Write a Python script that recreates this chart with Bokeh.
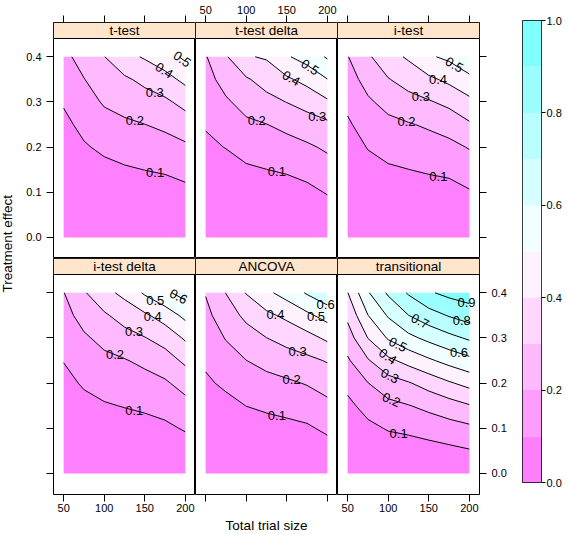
import math
import numpy as np
from bokeh.plotting import figure
from bokeh.layouts import row, column
from bokeh.models import Range1d, FixedTicker, PrintfTickFormatter, LinearAxis
from bokeh.plotting.contour import contour_data
from bokeh.core.properties import value
from bokeh.embed import file_html
from bokeh.resources import INLINE

# ---------------- data ----------------
TRIAL_SIZE = [50, 75, 100, 125, 150, 175, 200]
TREATMENT_EFFECT = [0.0, 0.05, 0.10, 0.15, 0.20, 0.25, 0.30, 0.35, 0.40]
LEVELS = [0.0, 0.1, 0.2, 0.3, 0.4, 0.5, 0.6, 0.7, 0.8, 0.9, 1.0]
REGION_COLORS = ["#FF80FF", "#FF9CFF", "#FFB9FF", "#FFD6FF", "#FFF2FF",
                 "#F2FFFF", "#D6FFFF", "#B9FFFF", "#9CFFFF", "#80FFFF"]
PANEL_TITLES = ["t-test", "t-test delta", "i-test", "i-test delta", "ANCOVA", "transitional"]
X_TICKS = [50, 100, 150, 200]
Y_TICKS = [0.0, 0.1, 0.2, 0.3, 0.4]
KEY_TICKS = [0.0, 0.2, 0.4, 0.6, 0.8, 1.0]
X_LABEL = "Total trial size"
Y_LABEL = "Treatment effect"

# rows: treatment effect 0 .. 0.4 ; columns: total trial size 50 .. 200
T_TEST = [
    [0.010, 0.010, 0.010, 0.010, 0.010, 0.010, 0.010],
    [0.015, 0.015, 0.018, 0.020, 0.020, 0.020, 0.023],
    [0.020, 0.020, 0.028, 0.043, 0.052, 0.058, 0.076],
    [0.030, 0.054, 0.074, 0.090, 0.101, 0.111, 0.130],
    [0.043, 0.090, 0.119, 0.137, 0.150, 0.163, 0.184],
    [0.076, 0.126, 0.165, 0.184, 0.199, 0.219, 0.252],
    [0.109, 0.161, 0.210, 0.234, 0.258, 0.282, 0.331],
    [0.142, 0.197, 0.254, 0.285, 0.324, 0.365, 0.425],
    [0.175, 0.237, 0.298, 0.370, 0.410, 0.458, 0.519],
]
T_TEST_DELTA = [
    [0.010, 0.010, 0.010, 0.010, 0.010, 0.010, 0.010],
    [0.015, 0.015, 0.015, 0.015, 0.015, 0.022, 0.053],
    [0.023, 0.020, 0.039, 0.050, 0.057, 0.076, 0.106],
    [0.051, 0.061, 0.087, 0.099, 0.111, 0.130, 0.160],
    [0.080, 0.103, 0.134, 0.149, 0.164, 0.185, 0.215],
    [0.108, 0.145, 0.182, 0.198, 0.225, 0.255, 0.279],
    [0.136, 0.187, 0.234, 0.270, 0.302, 0.336, 0.385],
    [0.165, 0.237, 0.289, 0.338, 0.385, 0.430, 0.498],
    [0.193, 0.290, 0.392, 0.410, 0.490, 0.540, 0.611],
]
I_TEST = [
    [0.010, 0.010, 0.010, 0.010, 0.010, 0.010, 0.010],
    [0.013, 0.015, 0.015, 0.015, 0.015, 0.015, 0.036],
    [0.016, 0.024, 0.043, 0.053, 0.061, 0.067, 0.092],
    [0.020, 0.064, 0.088, 0.099, 0.110, 0.120, 0.148],
    [0.050, 0.105, 0.132, 0.147, 0.159, 0.174, 0.206],
    [0.086, 0.146, 0.176, 0.193, 0.213, 0.240, 0.287],
    [0.123, 0.186, 0.230, 0.265, 0.291, 0.324, 0.375],
    [0.159, 0.235, 0.295, 0.340, 0.381, 0.422, 0.475],
    [0.196, 0.285, 0.365, 0.413, 0.488, 0.520, 0.580],
]
I_TEST_DELTA = [
    [0.010, 0.010, 0.010, 0.010, 0.010, 0.010, 0.010],
    [0.015, 0.015, 0.015, 0.015, 0.018, 0.028, 0.051],
    [0.020, 0.035, 0.050, 0.059, 0.067, 0.081, 0.109],
    [0.041, 0.073, 0.092, 0.104, 0.116, 0.134, 0.168],
    [0.072, 0.111, 0.135, 0.149, 0.165, 0.187, 0.237],
    [0.103, 0.148, 0.177, 0.194, 0.221, 0.257, 0.319],
    [0.134, 0.186, 0.227, 0.262, 0.296, 0.338, 0.413],
    [0.166, 0.236, 0.286, 0.341, 0.384, 0.444, 0.526],
    [0.197, 0.290, 0.370, 0.425, 0.514, 0.583, 0.635],
]
ANCOVA = [
    [0.010, 0.010, 0.010, 0.010, 0.010, 0.010, 0.010],
    [0.015, 0.015, 0.015, 0.015, 0.020, 0.028, 0.059],
    [0.025, 0.029, 0.052, 0.064, 0.075, 0.087, 0.118],
    [0.055, 0.073, 0.101, 0.117, 0.130, 0.146, 0.176],
    [0.085, 0.117, 0.150, 0.169, 0.185, 0.206, 0.239],
    [0.115, 0.161, 0.199, 0.229, 0.255, 0.277, 0.307],
    [0.145, 0.205, 0.258, 0.299, 0.333, 0.367, 0.418],
    [0.175, 0.253, 0.322, 0.379, 0.421, 0.479, 0.538],
    [0.205, 0.302, 0.405, 0.479, 0.540, 0.610, 0.673],
]
TRANSITIONAL = [
    [0.010, 0.010, 0.010, 0.010, 0.010, 0.010, 0.010],
    [0.014, 0.015, 0.042, 0.049, 0.0625, 0.077, 0.093],
    [0.018, 0.075, 0.108, 0.122, 0.141, 0.160, 0.179],
    [0.074, 0.138, 0.174, 0.196, 0.225, 0.258, 0.293],
    [0.130, 0.198, 0.258, 0.292, 0.340, 0.389, 0.431],
    [0.187, 0.291, 0.378, 0.433, 0.485, 0.532, 0.574],
    [0.252, 0.402, 0.510, 0.574, 0.626, 0.673, 0.714],
    [0.322, 0.498, 0.610, 0.699, 0.759, 0.807, 0.843],
    [0.397, 0.591, 0.715, 0.811, 0.888, 0.927, 0.952],
]
PANEL_VALUES = [T_TEST, T_TEST_DELTA, I_TEST, I_TEST_DELTA, ANCOVA, TRANSITIONAL]

# ---------------- geometry / style ----------------
FONT = "Liberation Sans"
STRIP_COLOR = "#FFE5CC"
FRAME_W = 142
STRIP_H = 16
PANEL_H = 220
FRAME_H = STRIP_H + PANEL_H
TOP_B = 22
BOT_B = 22
LEFT_B = 39
RIGHT_B = 31
YLAB_W = 14
XLAB_H = 18
KEY_L, KEY_W, KEY_R, KEY_T, KEY_H = 12, 20, 22, 20, 462
TOTAL_H = TOP_B + 2 * FRAME_H + BOT_B + XLAB_H

X_LO, X_HI = 37.5, 212.5
Y_LO, Y_HI = -0.0465, 0.4405
Y_PER_PX = (Y_HI - Y_LO) / PANEL_H
Y_STRIP_TOP = Y_HI + STRIP_H * Y_PER_PX
PX_PER_X = FRAME_W / (X_HI - X_LO)
PX_PER_Y = PANEL_H / (Y_HI - Y_LO)

AXES = [
    dict(left="labels", above="ticks"),
    dict(above="labels"),
    dict(above="ticks", right="ticks"),
    dict(left="ticks", below="labels"),
    dict(below="ticks"),
    dict(below="labels", right="labels"),
]


def add_axis(p, side, mode, ticks=None, fmt=None, tick_out=7, standoff=None):
    horizontal = side in ("above", "below")
    if ticks is None:
        ticks = X_TICKS if horizontal else Y_TICKS
    if fmt is None:
        fmt = "%d" if horizontal else "%.1f"
    ax = LinearAxis(ticker=FixedTicker(ticks=ticks),
                    formatter=PrintfTickFormatter(format=fmt))
    ax.axis_line_color = None
    ax.major_tick_in = 0
    ax.major_tick_out = tick_out
    ax.minor_tick_in = 0
    ax.minor_tick_out = 0
    ax.major_tick_line_color = "black"
    ax.major_tick_line_width = 1
    ax.major_label_text_font = FONT
    ax.major_label_text_font_size = "11px"
    ax.major_label_text_color = "black"
    if standoff is None:
        standoff = {"above": 2, "below": 2}.get(side, 5)
    ax.major_label_standoff = standoff
    if mode == "ticks":
        ax.major_label_overrides = {t: "" for t in ticks}
    p.add_layout(ax, side)


def split_lines(xs, ys):
    xs = np.asarray(xs, dtype=float)
    ys = np.asarray(ys, dtype=float)
    bad = np.isnan(xs) | np.isnan(ys)
    pieces, cur_x, cur_y = [], [], []
    for xv, yv, b in zip(xs, ys, bad):
        if b:
            if len(cur_x) > 1:
                pieces.append((np.array(cur_x), np.array(cur_y)))
            cur_x, cur_y = [], []
        else:
            cur_x.append(xv)
            cur_y.append(yv)
    if len(cur_x) > 1:
        pieces.append((np.array(cur_x), np.array(cur_y)))
    return pieces


def place_label(xx, yy):
    """lattice 'mixed' style: flat at the flattest point, else aligned at the deepest point."""
    sx = (xx - X_LO) * PX_PER_X
    sy = (yy - Y_LO) * PX_PER_Y
    seg = np.hypot(np.diff(sx), np.diff(sy))
    cum = np.concatenate([[0.0], np.cumsum(seg)])
    length = cum[-1]
    if length < 4:
        return None
    t = np.linspace(0.0, length, int(length) + 2)
    px = np.interp(t, cum, sx)
    py = np.interp(t, cum, sy)
    n = len(t)
    w = 10
    idx = np.arange(n)
    i0 = np.clip(idx - w, 0, n - 1)
    i1 = np.clip(idx + w, 0, n - 1)
    ang = np.arctan2(py[i1] - py[i0], px[i1] - px[i0])
    ang = (ang + np.pi / 2) % np.pi - np.pi / 2
    rx0, rx1 = px.min(), px.max()
    ry0, ry1 = py.min(), py.max()
    depth = np.minimum(np.minimum(px - rx0, rx1 - px) / max(rx1 - rx0, 1e-9),
                       np.minimum(py - ry0, ry1 - py) / max(ry1 - ry0, 1e-9))
    k = int(np.argmin(np.abs(ang)))
    rot = 0.0
    if depth[k] < 0.05:
        k = int(np.argmax(depth))
        rot = float(ang[k])
    return px[k] / PX_PER_X + X_LO, py[k] / PX_PER_Y + Y_LO, rot


def contour_labels(z):
    cd = contour_data(x=TRIAL_SIZE, y=TREATMENT_EFFECT, z=z, levels=LEVELS,
                      want_fill=False, want_line=True)
    ld = cd.line_data
    lx, ly, lt, la = [], [], [], []
    for xs, ys, lev in zip(ld.xs, ld.ys, ld.levels):
        if len(xs) and isinstance(xs[0], (list, np.ndarray)):
            pieces = []
            for a, b in zip(xs, ys):
                pieces += split_lines(a, b)
        else:
            pieces = split_lines(xs, ys)
        for xx, yy in pieces:
            res = place_label(xx, yy)
            if res is None:
                continue
            lx.append(float(res[0]))
            ly.append(float(res[1]))
            lt.append("%.1f" % lev)
            la.append(res[2])
    return lx, ly, lt, la


def make_panel(i):
    spec = AXES[i]
    top_row = i < 3
    colpos = i % 3
    p = figure(frame_width=FRAME_W, frame_height=FRAME_H,
               x_range=Range1d(X_LO, X_HI), y_range=Range1d(Y_LO, Y_STRIP_TOP),
               x_axis_location=None, y_axis_location=None,
               toolbar_location=None, output_backend="svg", min_border=0)
    p.min_border_left = LEFT_B if colpos == 0 else 0
    p.min_border_right = RIGHT_B if colpos == 2 else 0
    p.min_border_top = TOP_B if top_row else 0
    p.min_border_bottom = 0 if top_row else BOT_B
    p.grid.visible = False
    p.outline_line_color = "black"
    p.outline_line_width = 1
    p.background_fill_color = "white"
    p.border_fill_color = "white"

    z = np.array(PANEL_VALUES[i], dtype=float)
    p.contour(x=TRIAL_SIZE, y=TREATMENT_EFFECT, z=z, levels=LEVELS,
              fill_color=REGION_COLORS, line_color="black", line_width=1)

    lx, ly, lt, la = contour_labels(z)
    p.text(x=lx, y=ly, text=lt, angle=la, text_font=value(FONT),
           text_font_size="13px", text_align="center", text_baseline="middle",
           text_color="black")

    # strip
    p.quad(left=[X_LO], right=[X_HI], bottom=[Y_HI], top=[Y_STRIP_TOP],
           fill_color=STRIP_COLOR, line_color="black", line_width=1)
    p.text(x=[(X_LO + X_HI) / 2], y=[(Y_HI + Y_STRIP_TOP) / 2], text=[PANEL_TITLES[i]],
           text_font=value(FONT), text_font_size="13.5px",
           text_align="center", text_baseline="middle", text_color="black")

    for side, mode in spec.items():
        add_axis(p, side, mode)
    return p


def blank_fig(w, h):
    f = figure(width=w, height=h, x_range=Range1d(0, w), y_range=Range1d(0, h),
               x_axis_location=None, y_axis_location=None, toolbar_location=None,
               output_backend="svg", min_border=0)
    f.min_border_left = 0
    f.min_border_right = 0
    f.min_border_top = 0
    f.min_border_bottom = 0
    f.grid.visible = False
    f.outline_line_color = None
    f.background_fill_color = "white"
    f.border_fill_color = "white"
    return f


panels = [make_panel(i) for i in range(6)]

# y label (centred on the panel block)
ylab = blank_fig(YLAB_W, TOTAL_H)
ylab.text(x=[YLAB_W / 2], y=[TOTAL_H - (TOP_B + FRAME_H)], text=[Y_LABEL],
          angle=math.pi / 2, text_font=value(FONT), text_font_size="13.5px",
          text_align="center", text_baseline="middle", text_color="black")

# x label
XLAB_W = LEFT_B + 3 * FRAME_W + RIGHT_B
xlab = blank_fig(XLAB_W, XLAB_H)
xlab.text(x=[LEFT_B + 1.5 * FRAME_W], y=[XLAB_H / 2], text=[X_LABEL],
          text_font=value(FONT), text_font_size="13.5px",
          text_align="center", text_baseline="middle", text_color="black")

# colour key
key = figure(width=KEY_L + KEY_W + KEY_R, height=TOTAL_H,
             x_range=Range1d(0, 1), y_range=Range1d(LEVELS[0], LEVELS[-1]),
             x_axis_location=None, y_axis_location=None, toolbar_location=None,
             output_backend="svg", min_border=0)
key.min_border_left = KEY_L
key.min_border_right = KEY_R
key.min_border_top = KEY_T
key.min_border_bottom = TOTAL_H - KEY_T - KEY_H
key.grid.visible = False
key.outline_line_color = "black"
key.outline_line_width = 1
key.border_fill_color = "white"
key.quad(left=0, right=1, bottom=LEVELS[:-1], top=LEVELS[1:],
         fill_color=REGION_COLORS, line_color=None)
add_axis(key, "right", "labels", ticks=KEY_TICKS, fmt="%.1f", tick_out=4, standoff=1)

layout = row(ylab,
             column(row(panels[0], panels[1], panels[2]),
                    row(panels[3], panels[4], panels[5]),
                    xlab),
             key)

with open("out.html", "w") as f:
    f.write(file_html(layout, INLINE, title="Contour plot"))
